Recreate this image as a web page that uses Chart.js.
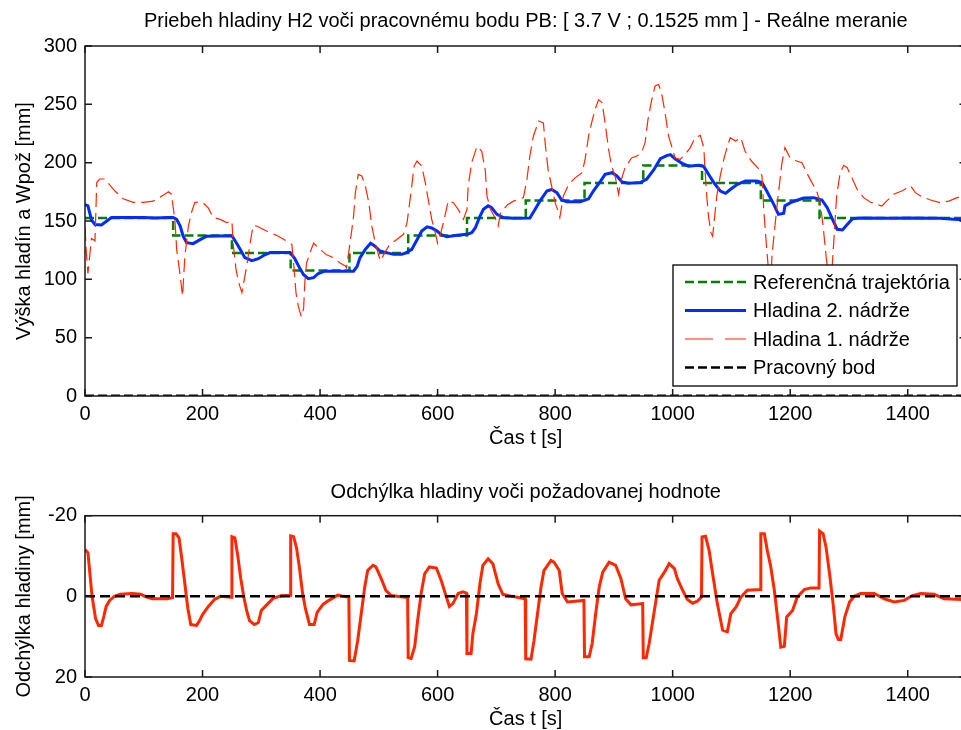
<!DOCTYPE html>
<html><head><meta charset="utf-8">
<script src="https://cdn.jsdelivr.net/npm/chart.js@4.4.1/dist/chart.umd.min.js"></script>
<style>
html,body{margin:0;padding:0;background:#fff;overflow:hidden;width:961px;height:730px;}
canvas{position:absolute;left:0;}
#c1{top:0}
#c2{top:460px}
</style></head><body>
<canvas id="c1" width="1000" height="460"></canvas>
<canvas id="c2" width="1000" height="281"></canvas>
<script>
// ---- tick labels ----
const xTicks=[0,200,400,600,800,1000,1200,1400];
const yTicksTop=[0,50,100,150,200,250,300];
const yTicksBottom=[-20,0,20];

// ---- Referenčná trajektória (step) ----
const refT=[0,150,250,350,450,550,650,750,850,950,1050,1150,1250,1500];
const refH=[152.5,137.5,122.5,107.5,122.5,137.5,152.5,167.5,182.5,197.5,182.5,167.5,152.5,152.5];

// ---- Hladina 2. nádrže ----
const h2T=[0,5,11,17,28,37,45,100,120,140,150,156,162,167,173,184,196,207,250,258,264,272,284,295,306,315,349,357,366,372,380,389,397,408,457,463,468,477,486,493,502,513,525,539,547,556,565,573,582,590,599,607,616,633,650,658,664,672,678,686,692,701,712,729,757,766,774,786,794,803,811,820,843,857,865,877,885,897,905,914,925,945,956,968,979,990,996,1004,1016,1027,1044,1053,1061,1070,1081,1090,1098,1110,1124,1143,1152,1160,1172,1180,1189,1191,1203,1223,1240,1254,1263,1272,1280,1289,1297,1306,1320,1372,1400,1455,1478,1500];
const h2H=[164,163,151,147,146.6,150,153,153,152.5,153,153,151.4,145.7,137,131.4,130.6,134,137,137.3,131,125.7,118.6,116,117.7,121,122.9,122.9,117.7,109,104,100.6,101.4,105,107,107,111,118.6,125.7,130.9,128.6,124.3,122.9,121.4,121.4,122.9,125.7,134,141.4,145,144,141.4,138,136.6,137.7,138.6,140,144,154,160,163,161.4,155.7,152.9,152.3,152.5,160,167,175.7,177,174.3,168,166.6,166.6,169,175.7,184,190,191.4,188.6,183.4,182.3,182.9,186,194,203.4,206,206.9,203.4,199.4,197,197.7,196.6,190,182.9,175.7,173.7,177,181.4,184.3,184.3,183,175.7,164.3,155.7,156.6,163,166.3,169.7,170,168,161.4,151.4,142.9,142.3,147,152,152.6,152.3,152.6,152.3,151.4,150.9];

// ---- Hladina 1. nádrže ----
const h1T=[0,2,5,8,11,17,20,25,34,42,51,65,82,99,116,133,142,147,153,156,162,166,170,176,181,187,201,210,218,230,241,250,252,257,261,267,275,281,286,292,309,326,343,352,355,359,363,368,372,374,377,383,389,400,411,423,434,443,445,451,457,460,465,471,477,483,488,494,500,503,510,519,530,542,548,554,560,565,573,579,584,590,596,600,604,610,618,627,635,644,650,652,658,667,675,681,684,690,699,703,707,719,729,746,752,757,763,772,780,783,788,794,800,806,808,814,823,834,846,851,857,862,868,874,880,885,891,896,902,908,911,919,930,939,947,953,958,964,970,976,981,987,993,999,1004,1013,1021,1030,1038,1047,1053,1055,1058,1061,1065,1068,1071,1075,1081,1087,1093,1098,1107,1116,1123,1134,1146,1152,1155,1160,1164,1167,1169,1174,1180,1186,1191,1200,1211,1220,1228,1237,1245,1251,1256,1261,1265,1270,1274,1279,1285,1291,1297,1305,1314,1325,1336,1347,1356,1364,1376,1390,1405,1413,1424,1439,1455,1470,1484,1500];
const h1H=[145,125,105,120,135,133,183,186,186,181,175.7,169,166,166,167,172,175,173,151,125.7,103,85.7,120,145.7,157,166,165.7,161,153,151.4,148.6,150,131,108.6,98,88.6,111,131,146,145.7,141.4,137.7,132.9,130,114,88.6,77,68,75,97,114,123,131,125.7,121,118.6,114,111.4,110,131,154,174,190,188.6,180,165.7,145.7,131,120,115.7,123,130,134,138.6,148.6,171.4,197,201.4,197,183,168.6,151.4,140,131,137,148.6,167,165.7,160,151.4,160,180,200,214,210,194,171.4,160,151.4,145.7,157,164,167,170,185.7,205.7,222.9,235.7,234,217,194,180,165.7,157,153,171.4,181.4,187,191.4,202.9,222.9,234,245.7,254,251.4,234,211.4,197,188.6,172.9,182.9,195.7,204,205.7,208.6,217,237,252.9,265.7,267,260,242.9,222.9,212.9,204,202.9,207,212.9,221.4,223.4,212.9,194,171.4,154,140,137,151.4,171.4,188.6,202.9,214,221.4,218.6,221.4,210,201.4,194.9,188.6,160,125.7,103,98,120,145.7,174,200,212.9,204,201.4,200,191.4,182.9,175.7,165.7,145.7,120,103,100,131,171.4,191.4,197.7,195.7,187,177,170,166.3,164.3,162.9,167,172.9,175.7,180,174.3,170.9,168,165.7,167,170,171];

// ---- Pracovný bod ----
const pbT=[0,1500];
const pbTop=[0.1525,0.1525];
const pbBottom=[0,0];

// ---- Odchýlka hladiny ----
const errT=[0,5,12,18,23,28,32,36,42,50,60,80,95,105,115,140,149,150,155,160,165,170,175,180,190,195,200,210,220,230,249,250,255,260,265,270,275,280,288,295,300,310,320,335,349,350,355,360,365,370,375,382,390,395,405,415,430,440,449,450,458,464,470,476,481,490,495,504,512,521,549,550,555,561,566,572,578,586,598,606,615,620,626,635,643,649,650,657,660,666,672,677,686,694,703,711,726,749,750,759,764,770,776,781,793,798,807,812,821,849,850,858,863,869,875,881,892,903,912,920,929,949,950,955,960,968,977,986,994,1003,1008,1017,1025,1034,1042,1049,1050,1056,1062,1068,1076,1085,1093,1099,1108,1116,1127,1149,1150,1156,1161,1167,1173,1179,1184,1190,1194,1204,1212,1224,1235,1249,1250,1256,1261,1267,1273,1278,1282,1286,1293,1301,1309,1320,1343,1360,1377,1394,1408,1422,1445,1462,1492,1500];
const errV=[-11.6,-10.8,0,5.5,7.2,7.2,5,2.5,1,0,-0.5,-0.7,-0.5,0.2,0.6,0.6,0.3,-15.5,-15.5,-14.5,-9,-3,3,7,7.2,6,4.5,2.5,0.8,0,0.2,-14.8,-14.5,-10,-4.5,0,3.5,6,7,6.5,3.5,2,0.5,-0.2,-0.3,-15,-14.8,-12,-7,-1,3,7,7,4,2,1,-0.3,0,0.2,15.9,16,11,4.3,-2.3,-6.4,-7.7,-7.3,-4.4,-1.5,-0.2,0.3,15.2,15.4,12.5,6,-0.7,-5.6,-7.3,-7,-4,0.2,2.5,1.8,-0.7,-1.1,-0.8,14.2,14.2,9.3,4.3,-3.1,-7.7,-9.3,-8.1,-3.1,-0.5,0,0.6,15.5,15.6,11,4.3,-2.3,-6.4,-8.9,-8.5,-6.4,-0.7,1.4,1,15,15,11.7,4.3,-2.3,-6,-8.5,-7.7,-4.4,0.6,2.1,1.8,15.2,15.2,11.7,4.3,-4,-6,-8.1,-6.9,-4.4,-1.5,0.8,1.7,1.2,0.2,-14.7,-14.9,-11.4,-5.6,1.8,8.4,8.8,4.3,2.6,0.2,-1.5,-1.7,-15.5,-15.5,-11.4,-7.3,-1.5,6,12.6,12.4,5.1,3.5,0.2,-1.7,-2.1,-2.1,-16.2,-15.5,-12.2,-5.6,1.8,9.3,10.7,10.7,5.1,1.4,0,-0.7,-0.7,0.6,1.4,1,-0.2,-0.7,-0.5,0.6,0.8,0.8];

const xy=(T,V)=>T.map((t,i)=>({x:t,y:V[i]}));

const FONT='"Liberation Sans", Arial, sans-serif';
const FS=20;
Chart.defaults.font.family=FONT;
Chart.defaults.font.size=FS;
Chart.defaults.color='#000';

const RED='rgb(255,40,0)';
const BLUE='rgb(0,45,255)';
const GREEN='rgb(0,128,0)';

const framePlugin={
  id:'frame',
  afterDraw(chart){
    const {ctx,chartArea:a,scales:{x,y}}=chart;
    ctx.save();
    ctx.strokeStyle='#1a1a1a';ctx.lineWidth=1.5;ctx.setLineDash([]);
    ctx.strokeRect(a.left,a.top,a.right-a.left,a.bottom-a.top);
    const L=7;
    ctx.beginPath();
    x.ticks.forEach(t=>{const p=x.getPixelForValue(t.value);
      ctx.moveTo(p,a.bottom);ctx.lineTo(p,a.bottom-L);
      ctx.moveTo(p,a.top);ctx.lineTo(p,a.top+L);});
    y.ticks.forEach(t=>{const p=y.getPixelForValue(t.value);
      ctx.moveTo(a.left,p);ctx.lineTo(a.left+L,p);
      ctx.moveTo(a.right,p);ctx.lineTo(a.right-L,p);});
    ctx.stroke();
    ctx.restore();
  }
};
const titlePlugin={
  id:'ctitle',
  afterDraw(chart,args,o){
    const {ctx,chartArea:a}=chart;
    ctx.save();ctx.font=FS+'px '+FONT;ctx.fillStyle='#000';
    ctx.textAlign='center';ctx.textBaseline='middle';
    ctx.fillText(o.text,(a.left+a.right)/2,o.y);
    ctx.restore();
  }
};
const legendPlugin={
  id:'boxLegend',
  afterDatasetsDraw(chart,args,o){
    if(!o.show) return;
    const ctx=chart.ctx;
    ctx.save();
    ctx.fillStyle='#fff';ctx.fillRect(o.x,o.y,o.w,o.h);
    ctx.strokeStyle='#000';ctx.lineWidth=1.3;ctx.setLineDash([]);
    ctx.strokeRect(o.x,o.y,o.w,o.h);
    chart.data.datasets.forEach((ds,i)=>{
      const yy=o.y+o.first+i*o.step;
      ctx.strokeStyle=ds.borderColor;ctx.lineWidth=ds.borderWidth;
      ctx.setLineDash(ds.legendDash||[]);
      ctx.beginPath();ctx.moveTo(o.x+o.l0,yy);ctx.lineTo(o.x+o.l1,yy);ctx.stroke();
      ctx.setLineDash([]);
      ctx.fillStyle='#000';ctx.font=FS+'px '+FONT;ctx.textBaseline='middle';ctx.textAlign='left';
      ctx.fillText(ds.label,o.x+o.tx,yy+1);
    });
    ctx.restore();
  }
};

function xScale(){
  return {type:'linear',min:0,max:1500,
    afterBuildTicks:s=>{s.ticks=xTicks.map(v=>({value:v}));},
    ticks:{autoSkip:false,maxRotation:0,padding:6,callback:v=>String(v)},
    grid:{display:false,drawTicks:false},border:{display:false},
    title:{display:true,text:'Čas t [s]',padding:{top:0,bottom:10}},
    afterFit:s=>{s.height=64;}};
}

new Chart(document.getElementById('c1'),{
  type:'line',
  data:{datasets:[
    {label:'Referenčná trajektória',data:xy(refT,refH),stepped:true,borderColor:GREEN,borderWidth:2.5,borderDash:[9,4],legendDash:[9,4],order:4},
    {label:'Hladina 2. nádrže',data:xy(h2T,h2H),borderColor:BLUE,borderWidth:3,order:3},
    {label:'Hladina 1. nádrže',data:xy(h1T,h1H),borderColor:RED,borderWidth:1.2,borderDash:[14,6],legendDash:[28,12],order:2},
    {label:'Pracovný bod',data:xy(pbT,pbTop),borderColor:'#000',borderWidth:2.5,borderDash:[9,4],legendDash:[9,4],order:1}
  ]},
  options:{responsive:false,animation:false,devicePixelRatio:1,
    layout:{padding:{left:0,right:33.5,top:46,bottom:0}},
    elements:{point:{radius:0},line:{tension:0}},
    plugins:{legend:{display:false},tooltip:{enabled:false},
      ctitle:{text:'Priebeh hladiny H2 voči pracovnému bodu PB: [ 3.7 V ; 0.1525 mm ] - Reálne meranie',y:21},
      boxLegend:{show:true,x:673,y:265,w:284,h:121,first:17,step:28.5,l0:12,l1:73,tx:80}},
    scales:{
      x:xScale(),
      y:{type:'linear',min:0,max:300,
        afterBuildTicks:s=>{s.ticks=yTicksTop.map(v=>({value:v}));},
        ticks:{padding:8,callback:v=>String(v)},
        grid:{display:false,drawTicks:false},border:{display:false},
        title:{display:true,text:'Výška hladín a Wpož [mm]',padding:{top:12,bottom:0}},
        afterFit:s=>{s.width=85;}}
    }},
  plugins:[legendPlugin,framePlugin,titlePlugin]
});

new Chart(document.getElementById('c2'),{
  type:'line',
  data:{datasets:[
    {label:'Odchýlka',data:xy(errT,errV),borderColor:RED,borderWidth:3,order:2},
    {label:'Pracovný bod',data:xy(pbT,pbBottom),borderColor:'#000',borderWidth:2.5,borderDash:[10,5],order:1}
  ]},
  options:{responsive:false,animation:false,devicePixelRatio:1,
    layout:{padding:{left:0,right:33.5,top:55.7,bottom:0}},
    elements:{point:{radius:0},line:{tension:0}},
    plugins:{legend:{display:false},tooltip:{enabled:false},
      ctitle:{text:'Odchýlka hladiny voči požadovanej hodnote',y:32},
      boxLegend:{show:false}},
    scales:{
      x:xScale(),
      y:{type:'linear',min:-20,max:20,reverse:true,
        afterBuildTicks:s=>{s.ticks=yTicksBottom.map(v=>({value:v}));},
        ticks:{padding:8,callback:v=>String(v)},
        grid:{display:false,drawTicks:false},border:{display:false},
        title:{display:true,text:'Odchýlka hladiny [mm]',padding:{top:12,bottom:0}},
        afterFit:s=>{s.width=85;}}
    }},
  plugins:[legendPlugin,framePlugin,titlePlugin]
});
</script>
</body></html>
